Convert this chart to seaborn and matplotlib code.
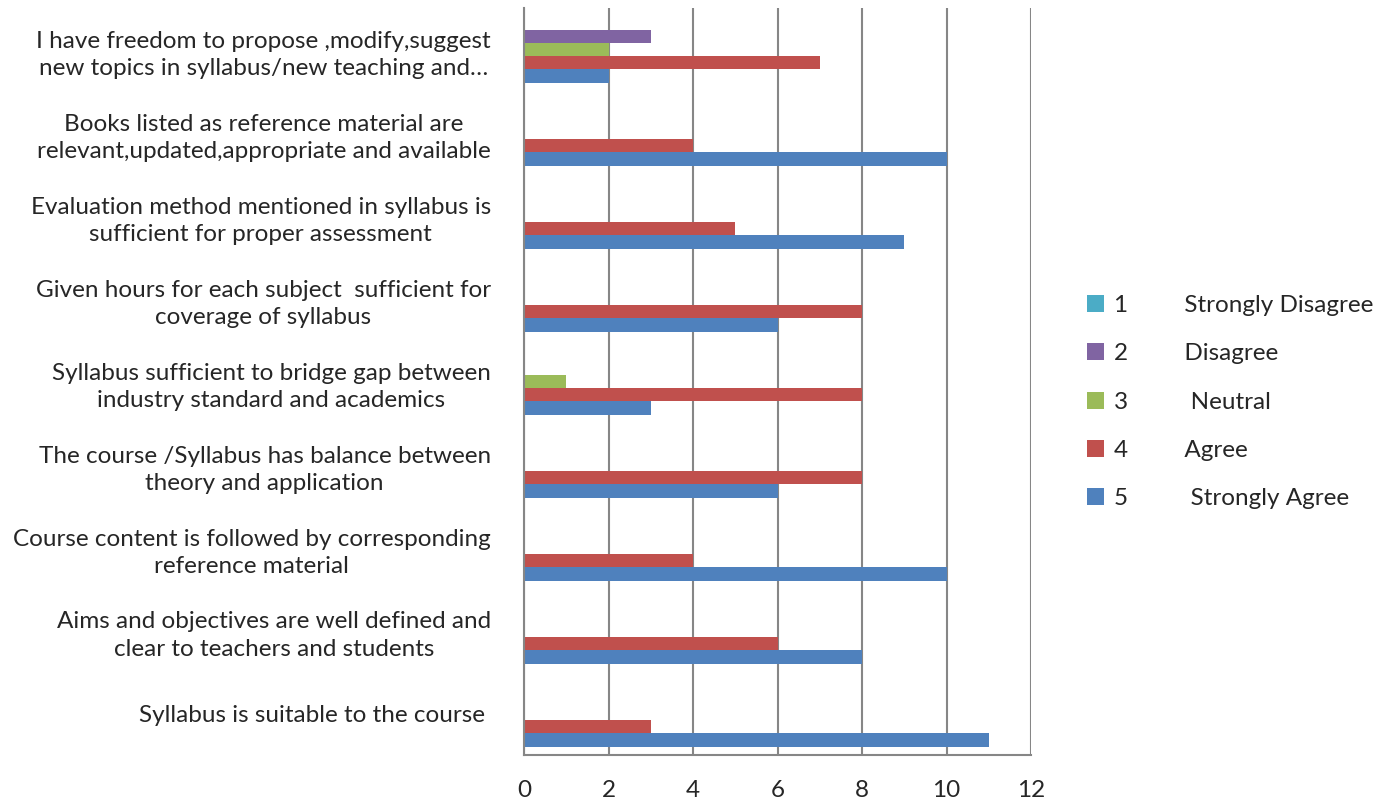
import pandas as pd
import matplotlib.pyplot as plt
import seaborn as sns

# === DATA ===
QUESTIONS = [
    "I have freedom to propose ,modify,suggest\nnew topics in syllabus/new teaching and…",
    "Books listed as reference material are\nrelevant,updated,appropriate and available",
    "Evaluation method mentioned in syllabus is\nsufficient for proper assessment",
    "Given hours for each subject  sufficient for\ncoverage of syllabus",
    "Syllabus sufficient to bridge gap between\nindustry standard and academics",
    "The course /Syllabus has balance between\ntheory and application",
    "Course content is followed by corresponding\nreference material",
    "Aims and objectives are well defined and\nclear to teachers and students",
    "Syllabus is suitable to the course ",
]
RESPONSES = [
    "1         Strongly Disagree",
    "2         Disagree",
    "3          Neutral",
    "4         Agree",
    "5          Strongly Agree",
]
strongly_disagree = [0, 0, 0, 0, 0, 0, 0, 0, 0]
disagree = [3, 0, 0, 0, 0, 0, 0, 0, 0]
neutral = [2, 0, 0, 0, 1, 0, 0, 0, 0]
agree = [7, 4, 5, 8, 8, 8, 4, 6, 3]
strongly_agree = [2, 10, 9, 6, 3, 6, 10, 8, 11]
X_TICKS = [0, 2, 4, 6, 8, 10, 12]

COLORS = ["#4BACC6", "#8064A2", "#9BBB59", "#C0504D", "#4F81BD"]


def build_frame():
    series = [strongly_disagree, disagree, neutral, agree, strongly_agree]
    rows = []
    for resp, vals in zip(RESPONSES, series):
        for q, v in zip(QUESTIONS, vals):
            rows.append({"question": q, "response": resp, "count": v})
    return pd.DataFrame(rows)


def generate_plot():
    sns.set_style("white")
    plt.rcParams["font.family"] = ["Lato", "DejaVu Sans"]

    df = build_frame()
    fig = plt.figure(figsize=(13.94, 8.06), dpi=100)
    ax = fig.add_axes([0.376, 0.0633, 0.3637, 0.9267])

    sns.barplot(data=df, y="question", x="count", hue="response",
                order=QUESTIONS, hue_order=RESPONSES, palette=COLORS,
                orient="h", width=0.8, saturation=1, linewidth=0,
                ax=ax, legend=True)

    ax.set_xlim(0, 12)
    ax.set_xticks(X_TICKS)
    ax.set_xticklabels([str(t) for t in X_TICKS], fontsize=17.5)
    ax.tick_params(axis="x", length=0, pad=18)
    ax.tick_params(axis="y", length=0, pad=24, labelsize=17.5)
    for lbl in ax.get_yticklabels():
        lbl.set_multialignment("center")
        lbl.set_linespacing(1.4)
    ax.set_xlabel("")
    ax.set_ylabel("")

    ax.grid(axis="x", color="#868686", linewidth=1.5)
    ax.set_axisbelow(True)
    for side in ["top", "right"]:
        ax.spines[side].set_visible(False)
    for side in ["left", "bottom"]:
        ax.spines[side].set_color("#868686")
        ax.spines[side].set_linewidth(1.5)

    handles, labels = ax.get_legend_handles_labels()
    ax.legend(handles, labels, loc="center left", bbox_to_anchor=(0.780, 0.501),
              bbox_transform=fig.transFigure, frameon=False, fontsize=17.5,
              handlelength=0.7, handleheight=0.7, handletextpad=0.4,
              labelspacing=1.12, borderpad=0, borderaxespad=0)

    fig.savefig("out.png", dpi=100)
    plt.close(fig)


if __name__ == "__main__":
    generate_plot()
